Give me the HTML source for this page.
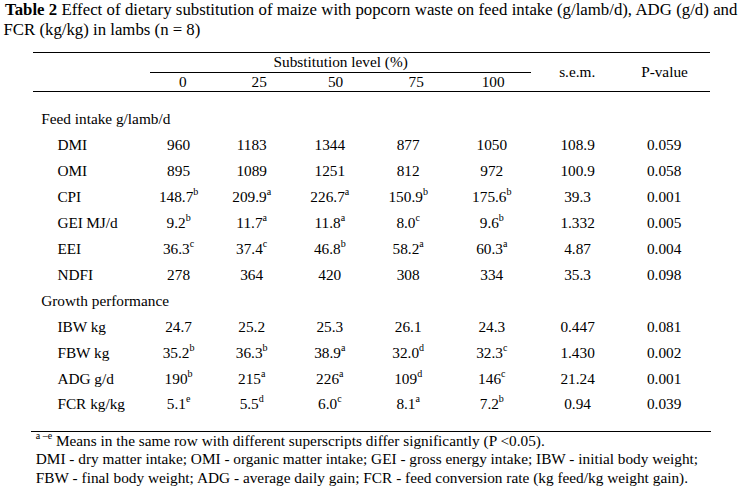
<!DOCTYPE html>
<html><head><meta charset="utf-8"><title>Table 2</title>
<style>
html,body{margin:0;padding:0;background:#fff;}
body{width:741px;height:488px;overflow:hidden;position:relative;font-family:"Liberation Serif","Times New Roman",serif;color:#000;}
.t{position:absolute;white-space:nowrap;line-height:1;}
.r{position:absolute;height:1px;background:#000;}
sup{font-size:10.0px;vertical-align:7.0px;line-height:0;}
sup.fs{font-size:10.0px;vertical-align:7px;}
b{font-weight:bold;}
.ws{word-spacing:0.15px;}
.ws3{word-spacing:0.07px;}
</style></head><body>
<div class="t ws" style="left:5.00px;top:1.93px;font-size:16.8px"><b>Table 2</b> Effect of dietary substitution of maize with popcorn waste on feed intake (g/lamb/d), ADG (g/d) and</div>
<div class="t" style="left:3.50px;top:21.93px;font-size:16.8px">FCR (kg/kg) in lambs (n = 8)</div>
<div class="r" style="left:33px;width:677px;top:52px"></div>
<div class="r" style="left:150px;width:381px;top:72px"></div>
<div class="r" style="left:33px;width:677px;top:91px"></div>
<div class="r" style="left:31px;width:680px;top:431px"></div>
<div class="t" style="left:273.50px;top:53.89px;font-size:15.3px">Substitution level (%)</div>
<div class="t" style="left:142.90px;width:80px;text-align:center;top:73.99px;font-size:15.3px">0</div>
<div class="t" style="left:219.20px;width:80px;text-align:center;top:73.99px;font-size:15.3px">25</div>
<div class="t" style="left:295.60px;width:80px;text-align:center;top:73.99px;font-size:15.3px">50</div>
<div class="t" style="left:376.20px;width:80px;text-align:center;top:73.99px;font-size:15.3px">75</div>
<div class="t" style="left:453.20px;width:80px;text-align:center;top:73.99px;font-size:15.3px">100</div>
<div class="t" style="left:537.20px;width:80px;text-align:center;top:64.29px;font-size:15.3px">s.e.m.</div>
<div class="t" style="left:624.50px;width:80px;text-align:center;top:64.29px;font-size:15.3px">P-value</div>
<div class="t" style="left:41.20px;top:111.19px;font-size:15.3px">Feed intake g/lamb/d</div>
<div class="t" style="left:57.40px;top:137.19px;font-size:15.3px">DMI</div>
<div class="t" style="left:138.60px;width:80px;text-align:center;top:137.19px;font-size:15.3px">960</div>
<div class="t" style="left:211.70px;width:80px;text-align:center;top:137.19px;font-size:15.3px">1183</div>
<div class="t" style="left:289.80px;width:80px;text-align:center;top:137.19px;font-size:15.3px">1344</div>
<div class="t" style="left:368.20px;width:80px;text-align:center;top:137.19px;font-size:15.3px">877</div>
<div class="t" style="left:451.80px;width:80px;text-align:center;top:137.19px;font-size:15.3px">1050</div>
<div class="t" style="left:537.60px;width:80px;text-align:center;top:137.19px;font-size:15.3px">108.9</div>
<div class="t" style="left:624.20px;width:80px;text-align:center;top:137.19px;font-size:15.3px">0.059</div>
<div class="t" style="left:57.40px;top:163.19px;font-size:15.3px">OMI</div>
<div class="t" style="left:138.60px;width:80px;text-align:center;top:163.19px;font-size:15.3px">895</div>
<div class="t" style="left:211.70px;width:80px;text-align:center;top:163.19px;font-size:15.3px">1089</div>
<div class="t" style="left:289.80px;width:80px;text-align:center;top:163.19px;font-size:15.3px">1251</div>
<div class="t" style="left:368.20px;width:80px;text-align:center;top:163.19px;font-size:15.3px">812</div>
<div class="t" style="left:451.80px;width:80px;text-align:center;top:163.19px;font-size:15.3px">972</div>
<div class="t" style="left:537.60px;width:80px;text-align:center;top:163.19px;font-size:15.3px">100.9</div>
<div class="t" style="left:624.20px;width:80px;text-align:center;top:163.19px;font-size:15.3px">0.058</div>
<div class="t" style="left:57.40px;top:189.19px;font-size:15.3px">CPI</div>
<div class="t" style="left:138.60px;width:80px;text-align:center;top:189.19px;font-size:15.3px">148.7<sup>b</sup></div>
<div class="t" style="left:211.70px;width:80px;text-align:center;top:189.19px;font-size:15.3px">209.9<sup>a</sup></div>
<div class="t" style="left:289.80px;width:80px;text-align:center;top:189.19px;font-size:15.3px">226.7<sup>a</sup></div>
<div class="t" style="left:368.20px;width:80px;text-align:center;top:189.19px;font-size:15.3px">150.9<sup>b</sup></div>
<div class="t" style="left:451.80px;width:80px;text-align:center;top:189.19px;font-size:15.3px">175.6<sup>b</sup></div>
<div class="t" style="left:537.60px;width:80px;text-align:center;top:189.19px;font-size:15.3px">39.3</div>
<div class="t" style="left:624.20px;width:80px;text-align:center;top:189.19px;font-size:15.3px">0.001</div>
<div class="t" style="left:57.40px;top:215.19px;font-size:15.3px">GEI<span style="word-spacing:-0.6px"> </span>MJ/d</div>
<div class="t" style="left:138.60px;width:80px;text-align:center;top:215.19px;font-size:15.3px">9.2<sup>b</sup></div>
<div class="t" style="left:211.70px;width:80px;text-align:center;top:215.19px;font-size:15.3px">11.7<sup>a</sup></div>
<div class="t" style="left:289.80px;width:80px;text-align:center;top:215.19px;font-size:15.3px">11.8<sup>a</sup></div>
<div class="t" style="left:368.20px;width:80px;text-align:center;top:215.19px;font-size:15.3px">8.0<sup>c</sup></div>
<div class="t" style="left:451.80px;width:80px;text-align:center;top:215.19px;font-size:15.3px">9.6<sup>b</sup></div>
<div class="t" style="left:537.60px;width:80px;text-align:center;top:215.19px;font-size:15.3px">1.332</div>
<div class="t" style="left:624.20px;width:80px;text-align:center;top:215.19px;font-size:15.3px">0.005</div>
<div class="t" style="left:57.40px;top:241.19px;font-size:15.3px">EEI</div>
<div class="t" style="left:138.60px;width:80px;text-align:center;top:241.19px;font-size:15.3px">36.3<sup>c</sup></div>
<div class="t" style="left:211.70px;width:80px;text-align:center;top:241.19px;font-size:15.3px">37.4<sup>c</sup></div>
<div class="t" style="left:289.80px;width:80px;text-align:center;top:241.19px;font-size:15.3px">46.8<sup>b</sup></div>
<div class="t" style="left:368.20px;width:80px;text-align:center;top:241.19px;font-size:15.3px">58.2<sup>a</sup></div>
<div class="t" style="left:451.80px;width:80px;text-align:center;top:241.19px;font-size:15.3px">60.3<sup>a</sup></div>
<div class="t" style="left:537.60px;width:80px;text-align:center;top:241.19px;font-size:15.3px">4.87</div>
<div class="t" style="left:624.20px;width:80px;text-align:center;top:241.19px;font-size:15.3px">0.004</div>
<div class="t" style="left:57.40px;top:267.19px;font-size:15.3px">NDFI</div>
<div class="t" style="left:138.60px;width:80px;text-align:center;top:267.19px;font-size:15.3px">278</div>
<div class="t" style="left:211.70px;width:80px;text-align:center;top:267.19px;font-size:15.3px">364</div>
<div class="t" style="left:289.80px;width:80px;text-align:center;top:267.19px;font-size:15.3px">420</div>
<div class="t" style="left:368.20px;width:80px;text-align:center;top:267.19px;font-size:15.3px">308</div>
<div class="t" style="left:451.80px;width:80px;text-align:center;top:267.19px;font-size:15.3px">334</div>
<div class="t" style="left:537.60px;width:80px;text-align:center;top:267.19px;font-size:15.3px">35.3</div>
<div class="t" style="left:624.20px;width:80px;text-align:center;top:267.19px;font-size:15.3px">0.098</div>
<div class="t" style="left:41.20px;top:293.19px;font-size:15.3px">Growth performance</div>
<div class="t" style="left:57.40px;top:319.19px;font-size:15.3px">IBW kg</div>
<div class="t" style="left:138.60px;width:80px;text-align:center;top:319.19px;font-size:15.3px">24.7</div>
<div class="t" style="left:211.70px;width:80px;text-align:center;top:319.19px;font-size:15.3px">25.2</div>
<div class="t" style="left:289.80px;width:80px;text-align:center;top:319.19px;font-size:15.3px">25.3</div>
<div class="t" style="left:368.20px;width:80px;text-align:center;top:319.19px;font-size:15.3px">26.1</div>
<div class="t" style="left:451.80px;width:80px;text-align:center;top:319.19px;font-size:15.3px">24.3</div>
<div class="t" style="left:537.60px;width:80px;text-align:center;top:319.19px;font-size:15.3px">0.447</div>
<div class="t" style="left:624.20px;width:80px;text-align:center;top:319.19px;font-size:15.3px">0.081</div>
<div class="t" style="left:57.40px;top:345.19px;font-size:15.3px">FBW kg</div>
<div class="t" style="left:138.60px;width:80px;text-align:center;top:345.19px;font-size:15.3px">35.2<sup>b</sup></div>
<div class="t" style="left:211.70px;width:80px;text-align:center;top:345.19px;font-size:15.3px">36.3<sup>b</sup></div>
<div class="t" style="left:289.80px;width:80px;text-align:center;top:345.19px;font-size:15.3px">38.9<sup>a</sup></div>
<div class="t" style="left:368.20px;width:80px;text-align:center;top:345.19px;font-size:15.3px">32.0<sup>d</sup></div>
<div class="t" style="left:451.80px;width:80px;text-align:center;top:345.19px;font-size:15.3px">32.3<sup>c</sup></div>
<div class="t" style="left:537.60px;width:80px;text-align:center;top:345.19px;font-size:15.3px">1.430</div>
<div class="t" style="left:624.20px;width:80px;text-align:center;top:345.19px;font-size:15.3px">0.002</div>
<div class="t" style="left:57.40px;top:371.19px;font-size:15.3px">ADG g/d</div>
<div class="t" style="left:138.60px;width:80px;text-align:center;top:371.19px;font-size:15.3px">190<sup>b</sup></div>
<div class="t" style="left:211.70px;width:80px;text-align:center;top:371.19px;font-size:15.3px">215<sup>a</sup></div>
<div class="t" style="left:289.80px;width:80px;text-align:center;top:371.19px;font-size:15.3px">226<sup>a</sup></div>
<div class="t" style="left:368.20px;width:80px;text-align:center;top:371.19px;font-size:15.3px">109<sup>d</sup></div>
<div class="t" style="left:451.80px;width:80px;text-align:center;top:371.19px;font-size:15.3px">146<sup>c</sup></div>
<div class="t" style="left:537.60px;width:80px;text-align:center;top:371.19px;font-size:15.3px">21.24</div>
<div class="t" style="left:624.20px;width:80px;text-align:center;top:371.19px;font-size:15.3px">0.001</div>
<div class="t" style="left:57.40px;top:396.19px;font-size:15.3px">FCR kg/kg</div>
<div class="t" style="left:138.60px;width:80px;text-align:center;top:396.19px;font-size:15.3px">5.1<sup>e</sup></div>
<div class="t" style="left:211.70px;width:80px;text-align:center;top:396.19px;font-size:15.3px">5.5<sup>d</sup></div>
<div class="t" style="left:289.80px;width:80px;text-align:center;top:396.19px;font-size:15.3px">6.0<sup>c</sup></div>
<div class="t" style="left:368.20px;width:80px;text-align:center;top:396.19px;font-size:15.3px">8.1<sup>a</sup></div>
<div class="t" style="left:451.80px;width:80px;text-align:center;top:396.19px;font-size:15.3px">7.2<sup>b</sup></div>
<div class="t" style="left:537.60px;width:80px;text-align:center;top:396.19px;font-size:15.3px">0.94</div>
<div class="t" style="left:624.20px;width:80px;text-align:center;top:396.19px;font-size:15.3px">0.039</div>
<div class="t" style="left:35.80px;top:433.09px;font-size:15.3px"><sup class="fs">a<span style="margin-left:2.4px">&#8211;</span>e</sup> Means in the same row with different superscripts differ significantly (P &lt;0.05).</div>
<div class="t" style="left:35.80px;top:451.19px;font-size:15.3px">DMI - dry matter intake; OMI - organic matter intake; GEI - gross energy intake; IBW - initial body weight;</div>
<div class="t ws3" style="left:35.80px;top:469.79px;font-size:15.3px">FBW - final body weight; ADG - average daily gain; FCR - feed conversion rate (kg feed/kg weight gain).</div>
</body></html>
